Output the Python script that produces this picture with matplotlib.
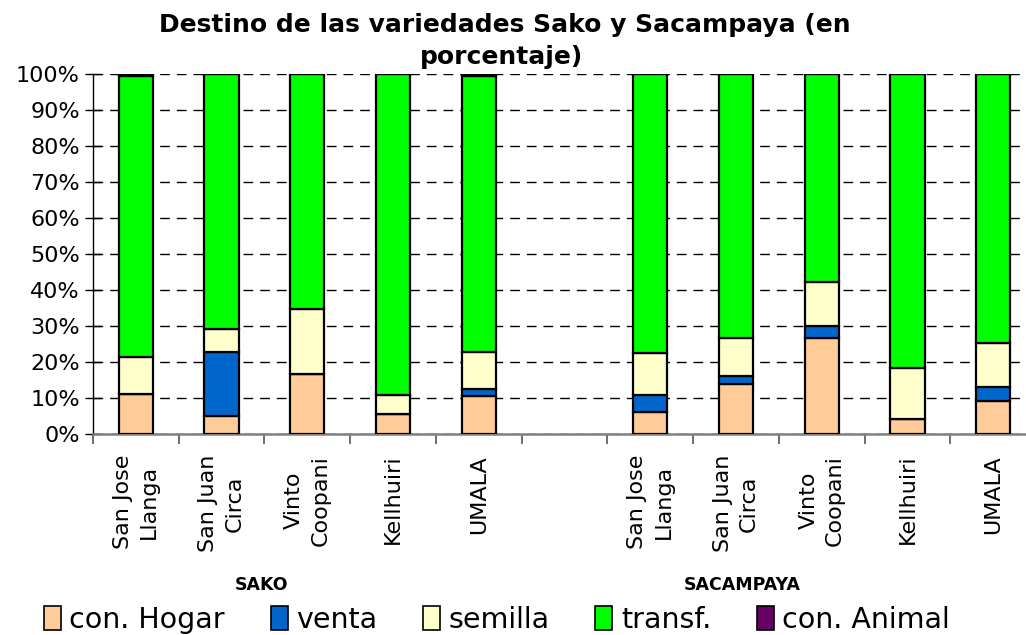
import matplotlib
matplotlib.use("Agg")
import matplotlib.pyplot as plt
from matplotlib.ticker import FixedLocator, PercentFormatter
from matplotlib.patches import Patch

categories = ["San Jose\nLlanga", "San Juan\nCirca", "Vinto\nCoopani", "Kellhuiri", "UMALA",
              "San Jose\nLlanga", "San Juan\nCirca", "Vinto\nCoopani", "Kellhuiri", "UMALA"]
slots = [0, 1, 2, 3, 4, 6, 7, 8, 9, 10]
groups = ["SAKO", "SACAMPAYA"]

hogar   = [11.0, 5.0, 16.7, 5.5, 10.5, 6.0, 13.9, 26.6, 4.1, 9.3]
venta   = [0.0, 17.9, 0.0, 0.0, 2.0, 4.7, 2.1, 3.4, 0.0, 3.7]
semilla = [10.5, 6.2, 18.0, 5.2, 10.3, 11.8, 10.7, 12.2, 14.2, 12.3]
transf  = [77.9, 70.9, 65.3, 89.3, 76.7, 77.5, 73.3, 57.8, 81.7, 74.7]
animal  = [0.6, 0.0, 0.0, 0.0, 0.5, 0.0, 0.0, 0.0, 0.0, 0.0]

series = [("con. Hogar", hogar, "#FFCC99"),
          ("venta", venta, "#0066CC"),
          ("semilla", semilla, "#FFFFCC"),
          ("transf.", transf, "#00FF00"),
          ("con. Animal", animal, "#660066")]

fig = plt.figure(figsize=(10.26, 6.35), dpi=100)
W, H = 1026, 635
ax = fig.add_axes([93 / W, (H - 434) / H, (1036 - 93) / W, (434 - 74) / H])

bottom = [0.0] * len(slots)
for name, vals, col in series:
    ax.bar(slots, vals, bottom=bottom, width=0.4, color=col, edgecolor="black",
           linewidth=1.6, zorder=3)
    bottom = [b + v for b, v in zip(bottom, vals)]

ax.set_xlim(-0.5, 10.5)
ax.set_ylim(0, 100)
ax.yaxis.set_major_locator(FixedLocator(list(range(0, 101, 10))))
ax.yaxis.set_major_formatter(PercentFormatter(decimals=0))
ax.grid(axis="y", color="black", linestyle=(0, (7, 5)), linewidth=1.0, zorder=0)
ax.set_axisbelow(True)

ax.set_xticks(slots)
ax.set_xticklabels(categories, rotation=90, fontsize=16, linespacing=1.4,
                   ha="center", va="top", multialignment="center")
ax.tick_params(axis="x", which="major", length=0, pad=15)
ax.xaxis.set_minor_locator(FixedLocator([k + 0.5 for k in range(-1, 11)]))
ax.tick_params(axis="x", which="minor", length=7, width=1.2, color="#555555", direction="out")
ax.tick_params(axis="y", which="major", direction="inout", length=11, width=1.0,
               labelsize=16, pad=4)

for s in ["top", "right"]:
    ax.spines[s].set_visible(False)
ax.spines["left"].set_color("black")
ax.spines["left"].set_linewidth(1.0)
ax.spines["bottom"].set_color("#808080")
ax.spines["bottom"].set_linewidth(1.8)

fig.text(505 / W, 1 - 25 / H, "Destino de las variedades Sako y Sacampaya (en",
         ha="center", va="center", fontsize=18, fontweight="bold")
fig.text(501 / W, 1 - 57 / H, "porcentaje)",
         ha="center", va="center", fontsize=18, fontweight="bold")
fig.text(261 / W, 1 - 585 / H, groups[0], ha="center", va="center", fontsize=12.5, fontweight="bold")
fig.text(742 / W, 1 - 585 / H, groups[1], ha="center", va="center", fontsize=12.5, fontweight="bold")

handles = [Patch(facecolor=c, edgecolor="black", linewidth=1.2, label=n) for n, v, c in series]
fig.legend(handles=handles, loc="center", bbox_to_anchor=(497 / W, 1 - 620 / H), ncol=5,
           frameon=False, fontsize=20.5, handlelength=0.6, handleheight=0.9,
           handletextpad=0.3, columnspacing=1.6, borderaxespad=0)

fig.savefig("out.png", dpi=100)
